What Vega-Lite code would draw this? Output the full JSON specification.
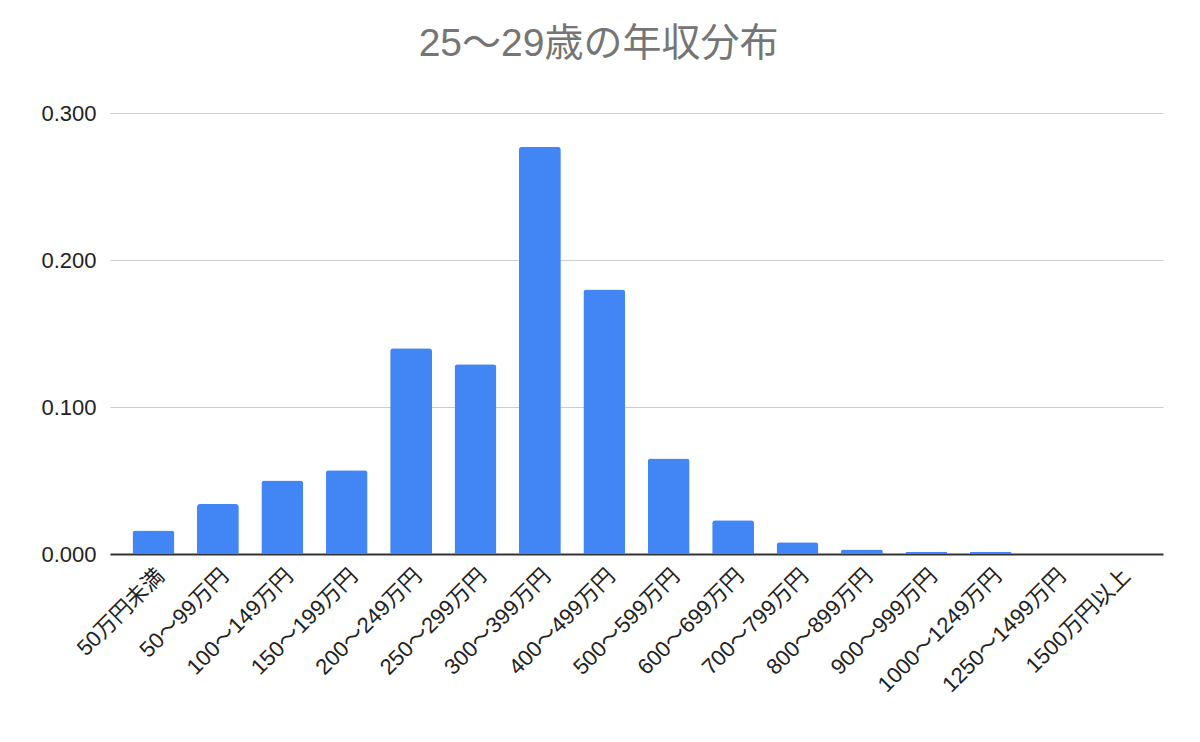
{
  "$schema": "https://vega.github.io/schema/vega-lite/v6.json",
  "autosize": "none",
  "width": 1053,
  "height": 441,
  "padding": {"left": 110, "top": 113, "right": 37, "bottom": 188},
  "background": "white",
  "title": {
    "text": "25～29歳の年収分布",
    "font": "Liberation Sans, Noto Sans CJK JP",
    "fontSize": 39,
    "fontWeight": "normal",
    "color": "#757575",
    "anchor": "middle",
    "dx": -38,
    "offset": 38
  },
  "data": {
    "values": [
      {"band": "50万円未満", "ratio": 0.016},
      {"band": "50～99万円", "ratio": 0.034},
      {"band": "100～149万円", "ratio": 0.050},
      {"band": "150～199万円", "ratio": 0.057},
      {"band": "200～249万円", "ratio": 0.140},
      {"band": "250～299万円", "ratio": 0.129},
      {"band": "300～399万円", "ratio": 0.277},
      {"band": "400～499万円", "ratio": 0.180},
      {"band": "500～599万円", "ratio": 0.065},
      {"band": "600～699万円", "ratio": 0.023},
      {"band": "700～799万円", "ratio": 0.008},
      {"band": "800～899万円", "ratio": 0.003},
      {"band": "900～999万円", "ratio": 0.0015},
      {"band": "1000～1249万円", "ratio": 0.0015},
      {"band": "1250～1499万円", "ratio": 0.0},
      {"band": "1500万円以上", "ratio": 0.0}
    ]
  },
  "mark": {"type": "bar", "color": "#4285F4", "cornerRadiusTopLeft": 3, "cornerRadiusTopRight": 3},
  "encoding": {
    "x": {
      "field": "band",
      "type": "nominal",
      "sort": null,
      "scale": {"paddingInner": 0.35, "paddingOuter": 0.35},
      "axis": {
        "title": null,
        "labelAngle": -45,
        "labelFont": "Liberation Sans, Noto Sans CJK JP",
        "labelFontSize": 22,
        "labelColor": "#222222",
        "labelPadding": 11,
        "ticks": false,
        "domainColor": "#333333",
        "domainWidth": 2,
        "grid": false
      }
    },
    "y": {
      "field": "ratio",
      "type": "quantitative",
      "scale": {"domain": [0, 0.3], "nice": false},
      "axis": {
        "title": null,
        "values": [0, 0.1, 0.2, 0.3],
        "format": ".3f",
        "labelFont": "Liberation Sans, Noto Sans CJK JP",
        "labelFontSize": 22,
        "labelColor": "#222222",
        "labelPadding": 14,
        "ticks": false,
        "domain": false,
        "gridColor": "#cccccc",
        "gridWidth": 1
      }
    }
  },
  "config": {"view": {"stroke": null}}
}
